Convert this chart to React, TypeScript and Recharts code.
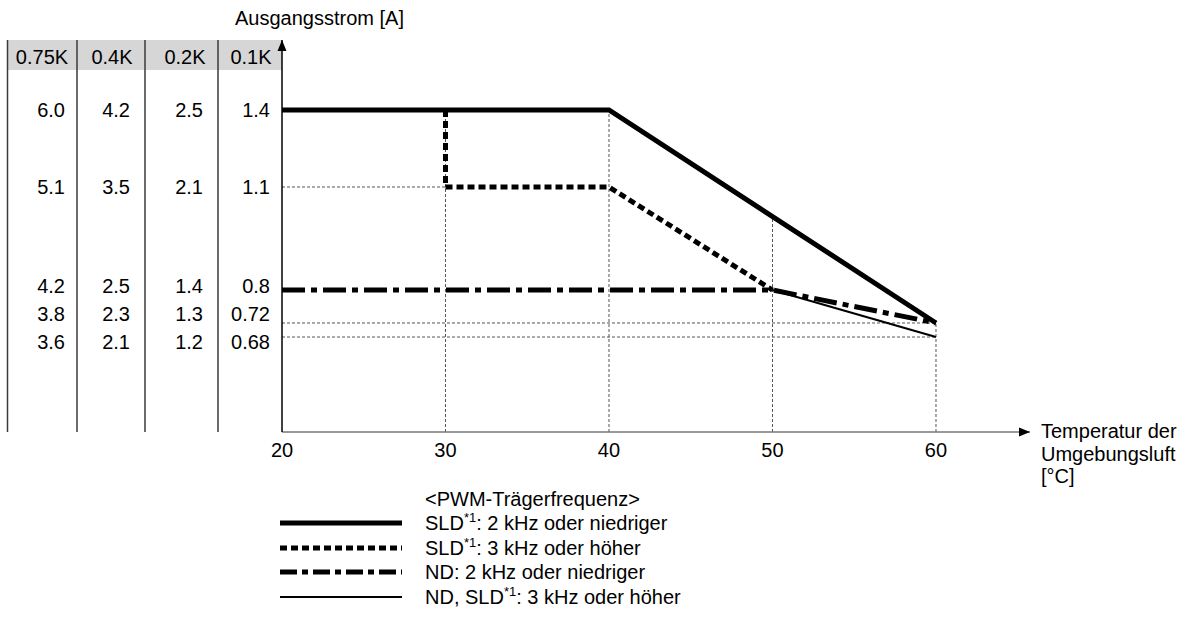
import { Legend, Line, LineChart, ReferenceDot, ReferenceLine, XAxis, YAxis } from "recharts";

const FONT = '"Liberation Sans", Arial, Helvetica, sans-serif';

// x axis (ambient temperature, °C)
const tempTicks = [20, 30, 40, 50, 60];
const tempAxisEnd = 65.75;

// table left of the chart: one column per model, one row per current level
const modelNames = ["0.75K", "0.4K", "0.2K", "0.1K"];
const rows075K = ["6.0", "5.1", "4.2", "3.8", "3.6"];
const rows04K = ["4.2", "3.5", "2.5", "2.3", "2.1"];
const rows02K = ["2.5", "2.1", "1.4", "1.3", "1.2"];
const rows01K = ["1.4", "1.1", "0.8", "0.72", "0.68"];
const levels01K = [1.4, 1.1, 0.8, 0.72, 0.68];

// derating curves, output current (A) of the 0.1K model
const sld2kTemp = [20, 40, 60];
const sld2kAmp = [1.4, 1.4, 0.72];
const sld3kTemp = [30, 30, 40, 50];
const sld3kAmp = [1.4, 1.1, 1.1, 0.8];
const nd2kTemp = [20, 50, 60];
const nd2kAmp = [0.8, 0.8, 0.72];
const nd3kTemp = [50, 60];
const nd3kAmp = [0.8, 0.68];

const seriesNames = [
  "SLD*1: 2 kHz oder niedriger",
  "SLD*1: 3 kHz oder höher",
  "ND: 2 kHz oder niedriger",
  "ND, SLD*1: 3 kHz oder höher",
];

// helper (dashed) lines
const guideTemps = [30, 40, 50, 60];
const guideLevels = [1.1, 0.72, 0.68];

// ---- layout ----
const W = 1190;
const H = 623;
const PLOT_LEFT = 282;
const PLOT_RIGHT = 1030;
const PLOT_TOP = 40;
const PLOT_BOTTOM = 432;
const Y_AXIS_W = 275;
const X_AXIS_H = 30;

const lineStyles = [
  { width: 5, dash: undefined as string | undefined, legendDash: undefined as string | undefined },
  { width: 5, dash: "7 4", legendDash: "7 4" },
  { width: 5, dash: "23 6 6 6", legendDash: "17 5 6 5" },
  { width: 2, dash: undefined, legendDash: undefined },
];

// the current axis is drawn schematic, not linear: knots and their share of the axis height
const currentTop = 1.6;
const yKnots = [0, 0.68, 0.72, 0.8, 1.1, 1.4, currentTop];
const yKnotShare = [0, 0.2423, 0.2781, 0.3622, 0.625, 0.8214, 1];

function shareOf(v: number) {
  let i = 1;
  while (i < yKnots.length - 1 && v > yKnots[i]) i++;
  const t = (v - yKnots[i - 1]) / (yKnots[i] - yKnots[i - 1]);
  return yKnotShare[i - 1] + t * (yKnotShare[i] - yKnotShare[i - 1]);
}

function valueOfShare(f: number) {
  let i = 1;
  while (i < yKnotShare.length - 1 && f > yKnotShare[i]) i++;
  const t = (f - yKnotShare[i - 1]) / (yKnotShare[i] - yKnotShare[i - 1]);
  return yKnots[i - 1] + t * (yKnots[i] - yKnots[i - 1]);
}

// minimal d3-like scale so recharts can use it
function schematicScale(): any {
  let dom = [yKnots[0], yKnots[yKnots.length - 1]];
  let rng = [0, 1];
  const scale: any = (v: number) => rng[0] + shareOf(v) * (rng[1] - rng[0]);
  scale.domain = (d?: number[]) => {
    if (d === undefined) return dom.slice();
    dom = d.slice();
    return scale;
  };
  scale.range = (r?: number[]) => {
    if (r === undefined) return rng.slice();
    rng = r.slice();
    return scale;
  };
  scale.copy = () => schematicScale().domain(dom).range(rng);
  scale.invert = (px: number) => valueOfShare((px - rng[0]) / (rng[1] - rng[0]));
  scale.ticks = () => yKnots.slice();
  scale.tickFormat = () => (v: number) => String(v);
  scale.nice = () => scale;
  scale.clamp = () => scale;
  return scale;
}

const yScale = schematicScale();

const toPoints = (temps: number[], amps: number[]) => temps.map((t, i) => ({ t, a: amps[i] }));
const seriesData = [
  toPoints(sld2kTemp, sld2kAmp),
  toPoints(sld3kTemp, sld3kAmp),
  toPoints(nd2kTemp, nd2kAmp),
  toPoints(nd3kTemp, nd3kAmp),
];

// vertical guides run up to the top curve (SLD 2 kHz), following its straight segment on screen
function topCurveAt(temp: number) {
  for (let i = 1; i < sld2kTemp.length; i++) {
    if (temp <= sld2kTemp[i]) {
      const t = (temp - sld2kTemp[i - 1]) / (sld2kTemp[i] - sld2kTemp[i - 1]);
      const f = shareOf(sld2kAmp[i - 1]) + t * (shareOf(sld2kAmp[i]) - shareOf(sld2kAmp[i - 1]));
      return valueOfShare(f);
    }
  }
  return sld2kAmp[sld2kAmp.length - 1];
}

// horizontal guides run from the axis to the first curve point at that level
function firstTempAt(level: number) {
  let best = Infinity;
  [sld2kTemp, sld3kTemp, nd2kTemp, nd3kTemp].forEach((temps, s) => {
    const amps = [sld2kAmp, sld3kAmp, nd2kAmp, nd3kAmp][s];
    temps.forEach((t, i) => {
      if (amps[i] === level && t < best) best = t;
    });
  });
  return best;
}

// table rows follow the levels; rows too close together are spread evenly around their middle
const ROW_GAP = 28;
function spreadRows(ys: number[]) {
  const groups: number[][] = ys.map((_, i) => [i]);
  const place = (g: number[]) => (ys[g[0]] + ys[g[g.length - 1]]) / 2 - ((g.length - 1) * ROW_GAP) / 2;
  let merged = true;
  while (merged) {
    merged = false;
    for (let k = 1; k < groups.length; k++) {
      const a = groups[k - 1];
      const b = groups[k];
      const aEnd = place(a) + (a.length - 1) * ROW_GAP;
      if (place(b) - aEnd < ROW_GAP) {
        groups.splice(k - 1, 2, [...a, ...b]);
        merged = true;
        break;
      }
    }
  }
  const out = ys.slice();
  groups.forEach((g) => {
    const p = place(g);
    g.forEach((idx, j) => (out[idx] = p + j * ROW_GAP));
  });
  return out;
}

const rowY = spreadRows(levels01K.map((v) => PLOT_BOTTOM - shareOf(v) * (PLOT_BOTTOM - PLOT_TOP)));
const tableColumns = [rows075K, rows04K, rows02K, rows01K];
const valueRight = [65, 130, 203, 270];
const headerCenter = [42, 112, 185, 251];
const separatorX = [7.5, 77, 145, 218];

function TableTick(props: any) {
  const i = levels01K.indexOf(props.payload?.value);
  if (i < 0) return null;
  return (
    <g>
      {tableColumns.map((col, c) => (
        <text key={c} x={valueRight[c]} y={rowY[i] + 7} textAnchor="end" fontSize={20} fill="#000">
          {col[i]}
        </text>
      ))}
    </g>
  );
}

function withFootnote(label: string) {
  const parts = label.split("*1");
  return parts.map((p, i) => (
    <span key={i}>
      {i > 0 && <sup style={{ fontSize: 13, lineHeight: 0 }}>*1</sup>}
      {p}
    </span>
  ));
}

function PwmLegend() {
  return (
    <div style={{ fontFamily: FONT, fontSize: 20, color: "#000" }}>
      <div style={{ marginLeft: 145, height: 24, lineHeight: "24px" }}>&lt;PWM-Trägerfrequenz&gt;</div>
      {seriesNames.map((name, i) => (
        <div key={name} style={{ display: "flex", alignItems: "center", height: 24.5, lineHeight: "24.5px" }}>
          <svg width={122} height={10} style={{ display: "block" }}>
            <line
              x1={0}
              x2={122}
              y1={5}
              y2={5}
              stroke="#000"
              strokeWidth={lineStyles[i].width}
              strokeDasharray={lineStyles[i].legendDash}
            />
          </svg>
          <span style={{ marginLeft: 23, whiteSpace: "nowrap" }}>{withFootnote(name)}</span>
        </div>
      ))}
    </div>
  );
}

const arrowUp = (p: any) => <path d={`M${p.cx},${p.cy} l-4.5,11 h9 z`} fill="#000" />;
const arrowRight = (p: any) => <path d={`M${p.cx},${p.cy} l-11,-4.5 v9 z`} fill="#000" />;

export default function App() {
  return (
    <div style={{ position: "absolute", left: 0, top: 0, width: W, height: H, background: "#fff", fontFamily: FONT }}>
      <svg width={W} height={H} style={{ position: "absolute", left: 0, top: 0 }} fontFamily={FONT}>
        <rect x={separatorX[0]} y={PLOT_TOP} width={PLOT_LEFT - separatorX[0]} height={30} fill="#d6d6d6" />
        {separatorX.map((x) => (
          <line key={x} x1={x} x2={x} y1={PLOT_TOP} y2={PLOT_BOTTOM} stroke="#3a3a3a" strokeWidth={1.5} />
        ))}
        {modelNames.map((m, i) => (
          <text key={m} x={headerCenter[i]} y={64} textAnchor="middle" fontSize={20} fill="#000">
            {m}
          </text>
        ))}
        <text x={235} y={25} fontSize={20} fill="#000">
          Ausgangsstrom [A]
        </text>
        <text x={1041} y={438} fontSize={20} fill="#000">
          <tspan x={1041}>Temperatur der</tspan>
          <tspan x={1041} dy={22.5}>Umgebungsluft</tspan>
          <tspan x={1041} dy={22.5}>[°C]</tspan>
        </text>
      </svg>
      <div style={{ position: "absolute", left: 0, top: 0 }}>
        <LineChart
          width={W}
          height={H}
          margin={{
            top: PLOT_TOP,
            right: W - PLOT_RIGHT,
            bottom: H - PLOT_BOTTOM - X_AXIS_H,
            left: PLOT_LEFT - Y_AXIS_W,
          }}
        >
          <XAxis
            dataKey="t"
            type="number"
            domain={[20, tempAxisEnd]}
            ticks={tempTicks}
            interval={0}
            height={X_AXIS_H}
            tickLine={false}
            tickMargin={5}
            axisLine={{ stroke: "#777", strokeWidth: 1.5 }}
            tick={{ fontSize: 20, fill: "#000" }}
          />
          <YAxis
            dataKey="a"
            type="number"
            domain={[0, currentTop]}
            scale={yScale}
            ticks={levels01K}
            interval={0}
            width={Y_AXIS_W}
            tickLine={false}
            axisLine={{ stroke: "#000", strokeWidth: 1.5 }}
            tick={TableTick}
          />
          {guideTemps.map((t) => (
            <ReferenceLine
              key={`v${t}`}
              segment={[
                { x: t, y: 0 },
                { x: t, y: topCurveAt(t) },
              ]}
              stroke="#555"
              strokeWidth={1}
              strokeDasharray="3 2"
            />
          ))}
          {guideLevels.map((lv) => (
            <ReferenceLine
              key={`h${lv}`}
              segment={[
                { x: 20, y: lv },
                { x: firstTempAt(lv), y: lv },
              ]}
              stroke="#555"
              strokeWidth={1}
              strokeDasharray="3 2"
            />
          ))}
          {seriesData.map((d, i) => (
            <Line
              key={seriesNames[i]}
              data={d}
              dataKey="a"
              name={seriesNames[i]}
              type="linear"
              stroke="#000"
              strokeWidth={lineStyles[i].width}
              strokeDasharray={lineStyles[i].dash}
              strokeLinecap="butt"
              strokeLinejoin="miter"
              dot={false}
              activeDot={false}
              isAnimationActive={false}
            />
          ))}
          <ReferenceDot x={20} y={currentTop} ifOverflow="visible" shape={arrowUp} />
          <ReferenceDot x={tempAxisEnd} y={0} ifOverflow="visible" shape={arrowRight} />
          <Legend
            layout="vertical"
            align="center"
            verticalAlign="middle"
            wrapperStyle={{ left: 280, top: 487, width: 520 }}
            content={() => <PwmLegend />}
          />
        </LineChart>
      </div>
    </div>
  );
}
